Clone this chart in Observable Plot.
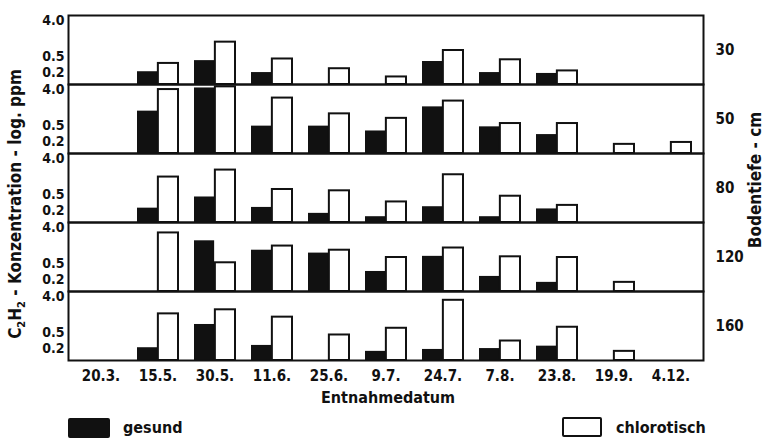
<!DOCTYPE html>
<html>
<head>
<meta charset="utf-8">
<script src="https://cdn.jsdelivr.net/npm/d3@7"></script>
<script src="https://cdn.jsdelivr.net/npm/@observablehq/plot@0.6"></script>
<style>
  html, body { margin: 0; padding: 0; background: #fff; }
  #wrap { position: relative; width: 764px; height: 439px; font-family: "DejaVu Sans Condensed", "DejaVu Sans", sans-serif; font-weight: bold; color: #111; }
  #chart { position: absolute; left: 0; top: 0; }
  .lbl { position: absolute; font-size: 16px; white-space: nowrap; line-height: 1.1; }
  .swatch { position: absolute; box-sizing: border-box; border: 2px solid #111; border-radius: 2px; }
</style>
</head>
<body>
<div id="wrap">
  <div id="chart"></div>
  <div class="lbl" id="ylab" style="left:17px; top:204px; font-size:17px; transform: translate(-50%,-50%) rotate(-90deg);">C<sub style="font-size:11px">2</sub>H<sub style="font-size:11px">2</sub> - Konzentration - log. ppm</div>
  <div class="lbl" id="rlab" style="left:755px; top:180px; font-size:17px; transform: translate(-50%,-50%) rotate(-90deg);">Bodentiefe - cm</div>
  <div class="lbl" style="left:388px; top:389px; transform: translateX(-50%);">Entnahmedatum</div>
  <div class="swatch" style="left:68px; top:418px; width:42px; height:20px; background:#111;"></div>
  <div class="lbl" style="left:123px; top:419px;">gesund</div>
  <div class="swatch" style="left:562px; top:417px; width:40px; height:20px; background:#fff;"></div>
  <div class="lbl" style="left:616px; top:419px;">chlorotisch</div>
</div>
<script>
const dates = ["20.3.","15.5.","30.5.","11.6.","25.6.","9.7.","24.7.","7.8.","23.8.","19.9.","4.12."];
const depths = [30, 50, 80, 120, 160];
const yTicks = [0.2, 0.5, 4.0];

// gesund (black) and chlorotisch (white) values per depth, ppm (null = no bar)
const gesund30  = [null, 0.21, 0.40, 0.20, null, null, 0.38, 0.20, 0.19, null, null];
const chloro30  = [null, 0.34, 1.17, 0.44, 0.25, 0.155, 0.72, 0.42, 0.22, null, null];
const gesund50  = [null, 1.17, 4.5, 0.49, 0.49, 0.37, 1.5, 0.47, 0.30, null, null];
const chloro50  = [null, 4.1, 4.8, 2.5, 1.0, 0.77, 2.1, 0.57, 0.57, 0.17, 0.19];
const gesund80  = [null, 0.23, 0.44, 0.24, 0.17, 0.14, 0.25, 0.14, 0.22, null, null];
const chloro80  = [null, 1.4, 2.1, 0.68, 0.63, 0.33, 1.6, 0.46, 0.27, null, null];
const gesund120 = [null, null, 1.9, 1.1, 0.93, 0.32, 0.77, 0.24, 0.17, null, null];
const chloro120 = [null, 3.0, 0.53, 1.4, 1.1, 0.72, 1.25, 0.75, 0.72, 0.17, null];
const gesund160 = [null, 0.21, 0.81, 0.24, null, 0.17, 0.19, 0.20, 0.23, null, null];
const chloro160 = [null, 1.5, 1.9, 1.24, 0.44, 0.65, 3.3, 0.31, 0.69, 0.17, null];

const gesundByDepth = [gesund30, gesund50, gesund80, gesund120, gesund160];
const chloroByDepth = [chloro30, chloro50, chloro80, chloro120, chloro160];

const yMin = 0.1, yMax = 5.5;
function rows(byDepth) {
  const out = [];
  depths.forEach((d, i) => byDepth[i].forEach((v, j) => {
    if (v != null) out.push({depth: d, date: dates[j], value: v});
  }));
  return out;
}
const gRows = rows(gesundByDepth);
const cRows = rows(chloroByDepth);

const W = 764, H = 405, ML = 68, MR = 61, MT = 14, MB = 44;
const step = (W - ML - MR) / dates.length;
const half = step / 2;
const outer = 8;

const chart = Plot.plot({
  width: W, height: H,
  marginLeft: ML, marginRight: MR, marginTop: MT, marginBottom: MB,
  style: {fontFamily: "DejaVu Sans Condensed, DejaVu Sans, sans-serif", fontWeight: "bold", fontSize: "15px", color: "#111", background: "#fff"},
  x: {domain: dates, padding: 0, axis: null},
  y: {type: "log", domain: [yMin, yMax], axis: null},
  fy: {domain: depths, padding: 0, axis: null},
  marks: [
    Plot.barY(gRows, {x: "date", y1: yMin, y2: "value", fy: "depth", fill: "#111", insetLeft: outer, insetRight: half}),
    Plot.barY(cRows, {x: "date", y1: yMin, y2: "value", fy: "depth", fill: "#fff", stroke: "#111", strokeWidth: 2, insetLeft: half, insetRight: outer}),
    Plot.frame({stroke: "#111", strokeWidth: 2}),
    Plot.axisY({ticks: yTicks, tickFormat: d => d.toFixed(1), tickSize: 0, tickPadding: 4, label: null, fontSize: 14}),
    Plot.axisFy({anchor: "right", tickSize: 0, tickPadding: 12, label: null, fontSize: 15}),
    Plot.axisX({anchor: "bottom", tickSize: 0, tickPadding: 10, label: null, fontSize: 15})
  ]
});
document.getElementById("chart").appendChild(chart);
</script>
</body>
</html>
